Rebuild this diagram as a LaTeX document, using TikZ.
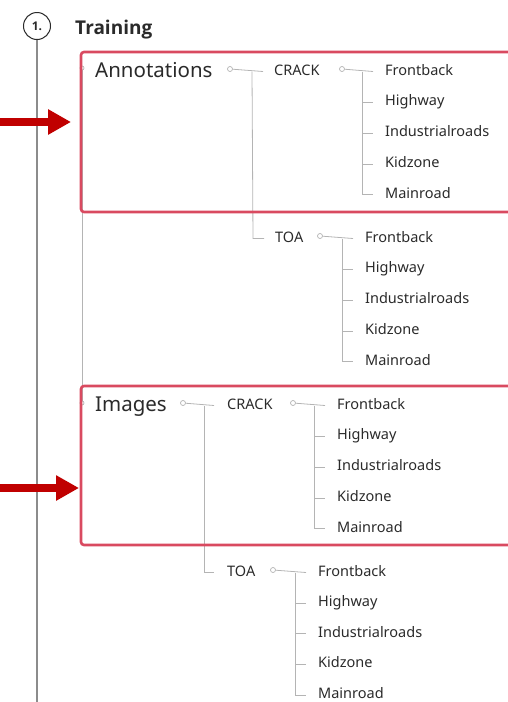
\documentclass[tikz,border=0pt]{standalone}
\usepackage{fontspec}
\setmainfont{Noto Sans}
\newfontfamily\titlefont{Open Sans}
\usetikzlibrary{arrows.meta}
\definecolor{txt}{HTML}{2A2A2A}
\definecolor{conn}{HTML}{B4B4B4}
\definecolor{mainline}{HTML}{8C8C8C}
\definecolor{boxred}{HTML}{D94A60}
\definecolor{arrred}{HTML}{C00000}
\tikzset{
  lbl/.style={anchor=west, inner sep=0pt, text=txt, font=\fontsize{14.5}{17}\selectfont, text height=0.71em, text depth=0pt, yshift=-1.5pt},
  big/.style={lbl, font=\fontsize{20.5}{24}\selectfont, yshift=-2pt},
  title/.style={lbl, font=\fontsize{19}{22}\titlefont\bfseries, yshift=-3pt},
  dot/.style={circle, draw=conn, fill=white, line width=0.7pt, minimum size=5pt, inner sep=0pt},
  branch/.style={draw=conn, line width=0.8pt},
  redbox/.style={draw=boxred, line width=2.6pt, rounded corners=3pt},
  bigarrow/.style={draw=arrred, line width=7.5pt, -{Triangle[length=23pt,width=24pt]}}
}
\begin{document}
\begin{tikzpicture}[x=1pt,y=-1pt]
\useasboundingbox (0,0) rectangle (508,702);
\clip (0,0) rectangle (508,702);
% main step
\node[circle, draw=txt, line width=1pt, minimum size=27pt, inner sep=0pt, text=txt, font=\fontsize{12}{14}\titlefont\bfseries] (c1) at (37,26) {1.};
\node[title] (train) at (75,26) {Training};
\coordinate (mainend) at (37,705);
\draw[mainline, line width=1.3pt] (c1.south) -- (mainend);

% level 1
\node[big] (ann) at (95,70) {Annotations};
\node[big] (img) at (95,404) {Images};
\node[dot, minimum size=4pt] (dL) at (82,68) {};
\node[dot, minimum size=4pt] (dL2) at (82,403) {};
\draw[branch] (dL) -- (dL2);

% level 2
\node[lbl] (crack1) at (274,70) {CRACK};
\node[lbl] (toa1) at (275,237) {TOA};
\node[lbl] (crack2) at (227,404) {CRACK};
\node[lbl] (toa2) at (227,571) {TOA};

\node[dot] (dAnn) at (230,69) {};
\node[dot] (dImg) at (183,403) {};
\draw[branch] (dAnn) -- ([xshift=-11pt]crack1.west);
\draw[branch] ([xshift=-22pt]crack1.west) -- ([xshift=-22pt]toa1.west) -- ([xshift=-11pt]toa1.west);
\draw[branch] (dImg) -- ([xshift=-13pt]crack2.west);
\draw[branch] ([xshift=-23pt]crack2.west) -- ([xshift=-23pt]toa2.west) -- ([xshift=-13pt]toa2.west);

% level 3 groups
\newcommand{\leafgroup}[6]{%
  \node[dot] (#1d) at (#4,#3-1) {};
  \foreach \nm/\k in {Frontback/1,Highway/2,Industrialroads/3,Kidzone/4,Mainroad/5}{
    \node[lbl] (#1\k) at (#2,{#3+(\k-1)*#6}) {\nm};
  }
  \draw[branch] (#1d) -- ([xshift=-12pt]#11.west);
  \draw[branch] ([xshift=-23pt]#11.west) -- ([xshift=-23pt]#15.west) -- ([xshift=-12pt]#15.west);
  \foreach \k in {2,3,4}{
    \draw[branch] ([xshift=-23pt]#1\k.west) -- ([xshift=-12pt]#1\k.west);
  }
}
\leafgroup{ca}{385}{70}{342}{crack1}{30.8}
\leafgroup{ta}{365}{237}{320}{toa1}{30.8}
\leafgroup{cb}{337}{404}{293}{crack2}{30.8}
\leafgroup{tb}{318}{571}{273}{toa2}{30.6}

% red boxes
\draw[redbox] (81,52) rectangle (520,212);
\draw[redbox] (81,386) rectangle (520,545);

% arrows
\coordinate (a1s) at (-2,122);
\coordinate (a1e) at (71,122);
\coordinate (a2s) at (-2,488);
\coordinate (a2e) at (79,488);
\draw[bigarrow] (a1s) -- (a1e);
\draw[bigarrow] (a2s) -- (a2e);
\end{tikzpicture}
\end{document}
